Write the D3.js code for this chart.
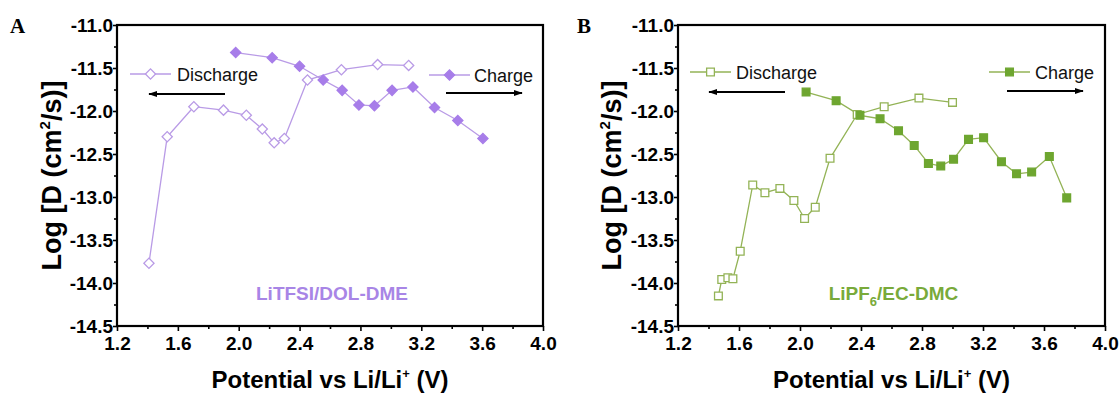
<!DOCTYPE html>
<html>
<head>
<meta charset="utf-8">
<script src="https://cdn.jsdelivr.net/npm/d3@7"></script>
<style>
  html, body { margin: 0; padding: 0; background: #fff; }
  svg { display: block; }
  text { font-family: "Liberation Sans", Arial, sans-serif; }
</style>
</head>
<body>
<svg id="chart" width="1120" height="394"></svg>
<script>
// ---- data ----
const xTicks = [1.2, 1.6, 2.0, 2.4, 2.8, 3.2, 3.6, 4.0];
const xMinor = [1.4, 1.8, 2.2, 2.6, 3.0, 3.4, 3.8];
const yTicks = [-11.0, -11.5, -12.0, -12.5, -13.0, -13.5, -14.0, -14.5];
const yMinor = [-11.25, -11.75, -12.25, -12.75, -13.25, -13.75, -14.25];

const aDischargeV = [1.41, 1.53, 1.705, 1.90, 2.05, 2.155, 2.233, 2.30, 2.452, 2.675, 2.913, 3.117];
const aDischargeD = [-13.77, -12.30, -11.95, -11.99, -12.05, -12.21, -12.37, -12.32, -11.64, -11.52, -11.46, -11.47];
const aChargeV = [1.98, 2.22, 2.40, 2.555, 2.68, 2.79, 2.892, 3.008, 3.145, 3.287, 3.44, 3.605];
const aChargeD = [-11.32, -11.38, -11.48, -11.64, -11.76, -11.93, -11.94, -11.76, -11.72, -11.96, -12.11, -12.32];

const bDischargeV = [1.465, 1.487, 1.527, 1.56, 1.608, 1.69, 1.77, 1.868, 1.96, 2.03, 2.10, 2.197, 2.375, 2.552, 2.78, 3.0];
const bDischargeD = [-14.15, -13.96, -13.94, -13.95, -13.63, -12.86, -12.95, -12.90, -13.04, -13.25, -13.12, -12.55, -12.04, -11.95, -11.85, -11.90];
const bChargeV = [2.04, 2.237, 2.393, 2.525, 2.646, 2.749, 2.842, 2.923, 3.007, 3.105, 3.204, 3.321, 3.42, 3.519, 3.635, 3.749];
const bChargeD = [-11.78, -11.88, -12.05, -12.09, -12.23, -12.40, -12.61, -12.64, -12.56, -12.33, -12.31, -12.59, -12.73, -12.71, -12.53, -13.01];

const seriesNames = ["Discharge", "Charge"];
const panelLetters = ["A", "B"];
const electrolytes = ["LiTFSI/DOL-DME", "LiPF6/EC-DMC"];

// ---- drawing ----
const svg = d3.select("#chart");
const defs = svg.append("defs");
defs.append("marker").attr("id", "arrowhead")
  .attr("viewBox", "0 0 10 10").attr("refX", 9).attr("refY", 5)
  .attr("markerWidth", 5).attr("markerHeight", 5).attr("orient", "auto")
  .append("path").attr("d", "M0,1.5 L10,5 L0,8.5 Z").attr("fill", "#000");

const zip = (xs, ys) => xs.map((v, i) => ({ v, d: ys[i] }));

const panels = [
  {
    left: 117, right: 543, top: 25, bottom: 326,
    letterX: 10, titleX: 61,
    shape: "diamond",
    lineColor: "#b99be6", markerColor: "#a77de9", textColor: "#a885e6",
    discharge: zip(aDischargeV, aDischargeD),
    charge: zip(aChargeV, aChargeD),
    label: electrolytes[0],
    legD: { x1: 130, x2: 171, y: 74, tx: 177 },
    legC: { x1: 429, x2: 470, y: 75, tx: 474 },
    arrL: { x1: 225, x2: 149, y: 94 },
    arrR: { x1: 446, x2: 522, y: 93 }
  },
  {
    left: 678, right: 1105, top: 25, bottom: 326,
    letterX: 577, titleX: 621,
    shape: "square",
    lineColor: "#93b356", markerColor: "#6ea630", textColor: "#79aa3a",
    discharge: zip(bDischargeV, bDischargeD),
    charge: zip(bChargeV, bChargeD),
    label: electrolytes[1],
    legD: { x1: 690, x2: 731, y: 72, tx: 736 },
    legC: { x1: 989, x2: 1030, y: 72, tx: 1035 },
    arrL: { x1: 785, x2: 709, y: 92 },
    arrR: { x1: 1007, x2: 1083, y: 91 }
  }
];

function symbolPath(shape) {
  return shape === "diamond"
    ? d3.symbol().type(d3.symbolSquare).size(52)()
    : d3.symbol().type(d3.symbolSquare).size(60)();
}

panels.forEach((p, pi) => {
  const g = svg.append("g");
  const x = d3.scaleLinear().domain([1.2, 4.0]).range([p.left, p.right]);
  const y = d3.scaleLinear().domain([-14.5, -11.0]).range([p.bottom, p.top]);

  // axes
  const fmt = d => d.toFixed(1);
  const xAxis = g.append("g").attr("transform", `translate(0,${p.bottom})`)
    .call(d3.axisBottom(x).tickValues(xTicks).tickFormat(fmt).tickSize(5).tickSizeOuter(0).tickPadding(3));
  g.append("g").attr("transform", `translate(0,${p.bottom})`)
    .call(d3.axisBottom(x).tickValues(xMinor).tickFormat("").tickSize(3).tickSizeOuter(0));
  const yAxis = g.append("g").attr("transform", `translate(${p.left},0)`)
    .call(d3.axisLeft(y).tickValues(yTicks).tickFormat(fmt).tickSize(4).tickSizeOuter(0).tickPadding(0));
  g.append("g").attr("transform", `translate(${p.left},0)`)
    .call(d3.axisLeft(y).tickValues(yMinor).tickFormat("").tickSize(3).tickSizeOuter(0));
  g.selectAll(".domain").remove();
  g.selectAll(".tick line").attr("stroke", "#000").attr("stroke-width", 1.6);
  g.selectAll(".tick text").attr("fill", "#000")
    .style("font-family", '"Liberation Sans", Arial, sans-serif')
    .style("font-weight", "bold").style("font-size", "19px");
  xAxis.selectAll(".tick text").attr("dy", "0.82em");

  // frame
  g.append("rect").attr("x", p.left).attr("y", p.top)
    .attr("width", p.right - p.left).attr("height", p.bottom - p.top)
    .attr("fill", "none").attr("stroke", "#000").attr("stroke-width", 2.2);

  // axis titles
  g.append("text").attr("x", (p.left + p.right) / 2).attr("y", 388)
    .attr("text-anchor", "middle").style("font-weight", "bold").style("font-size", "24px")
    .call(t => {
      t.append("tspan").text("Potential vs Li/Li");
      t.append("tspan").text("+").attr("dy", -10).style("font-size", "13px");
      t.append("tspan").text(" (V)").attr("dy", 10);
    });
  g.append("text")
    .attr("transform", `translate(${p.titleX},${(p.top + p.bottom) / 2}) rotate(-90)`)
    .attr("text-anchor", "middle").style("font-weight", "bold").style("font-size", "27px")
    .call(t => {
      t.append("tspan").text("Log [D (cm");
      t.append("tspan").text("2").attr("dy", -11).style("font-size", "15px");
      t.append("tspan").text("/s)]").attr("dy", 11);
    });

  // panel letter
  g.append("text").attr("x", p.letterX).attr("y", 33)
    .style("font-family", '"Liberation Serif", "Times New Roman", serif')
    .style("font-weight", "bold").style("font-size", "21px").text(panelLetters[pi]);

  // lines
  const line = d3.line().x(d => x(d.v)).y(d => y(d.d));
  [p.discharge, p.charge].forEach(ser => {
    g.append("path").datum(ser).attr("d", line)
      .attr("fill", "none").attr("stroke", p.lineColor).attr("stroke-width", 1.3);
  });

  const sym = symbolPath(p.shape);
  const rot = p.shape === "diamond" ? " rotate(45)" : "";
  function drawMarkers(ser, filled) {
    g.selectAll(null).data(ser).enter().append("path")
      .attr("d", sym)
      .attr("transform", d => `translate(${x(d.v)},${y(d.d)})${rot}`)
      .attr("fill", filled ? p.markerColor : "#fff")
      .attr("stroke", filled ? p.markerColor : p.lineColor)
      .attr("stroke-width", 1.3);
  }
  drawMarkers(p.discharge, false);
  drawMarkers(p.charge, true);

  // legend
  [[p.legD, false, seriesNames[0]], [p.legC, true, seriesNames[1]]].forEach(([l, filled, name]) => {
    g.append("line").attr("x1", l.x1).attr("x2", l.x2).attr("y1", l.y).attr("y2", l.y)
      .attr("stroke", p.lineColor).attr("stroke-width", 1.3);
    g.append("path").attr("d", sym)
      .attr("transform", `translate(${(l.x1 + l.x2) / 2},${l.y})${rot}`)
      .attr("fill", filled ? p.markerColor : "#fff")
      .attr("stroke", filled ? p.markerColor : p.lineColor).attr("stroke-width", 1.3);
    g.append("text").attr("x", l.tx).attr("y", l.y + 6.5)
      .style("font-size", "18px").attr("fill", "#111").text(name);
  });

  // arrows
  [p.arrL, p.arrR].forEach(a => {
    g.append("line").attr("x1", a.x1).attr("x2", a.x2).attr("y1", a.y).attr("y2", a.y)
      .attr("stroke", "#000").attr("stroke-width", 1.8).attr("marker-end", "url(#arrowhead)");
  });

  // electrolyte annotation
  const ann = g.append("text").attr("x", (p.left + p.right) / 2 + 2).attr("y", 300)
    .attr("text-anchor", "middle").style("font-weight", "bold").style("font-size", "19px")
    .attr("fill", p.textColor);
  if (p.label.indexOf("PF6") >= 0) {
    ann.append("tspan").text("LiPF");
    ann.append("tspan").text("6").attr("dy", 6).style("font-size", "13px");
    ann.append("tspan").text("/EC-DMC").attr("dy", -6);
  } else {
    ann.text(p.label);
  }
});
</script>
</body>
</html>
